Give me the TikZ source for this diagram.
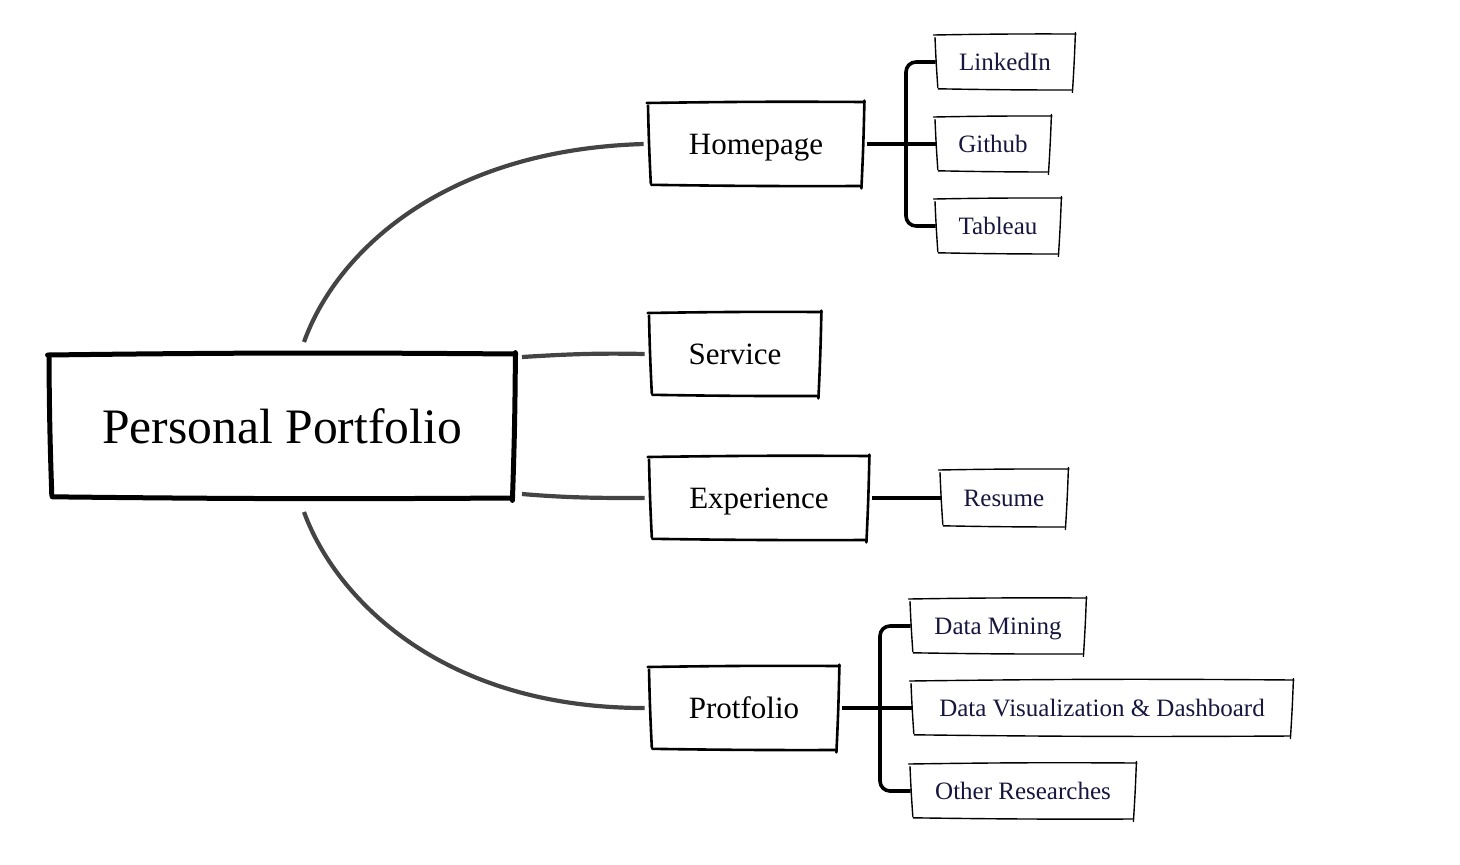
\documentclass[tikz,border=0pt]{standalone}
\usepackage{fontspec}
\setmainfont{Liberation Serif}
\usetikzlibrary{calc}
\definecolor{navy}{HTML}{16163E}
\definecolor{linkgray}{HTML}{444444}
\tikzset{
  box/.style={inner sep=0pt, align=center},
  mainbox/.style={box, font=\fontsize{24.8}{28}\selectfont},
  topicbox/.style={box, text depth=0pt, font=\fontsize{15.5}{18}\selectfont},
  leafbox/.style={box, text depth=0pt, text=navy, font=\fontsize{12.5}{15}\selectfont},
  mainlink/.style={draw=linkgray, line width=2.1pt},
  leaflink/.style={draw=black, line width=1.8pt, rounded corners=5pt},
}
% sketchy rectangle around a node: #1 node, #2 line width
\newcommand{\skbox}[2]{%
  \draw[line width=#2, line cap=round]
    ($(#1.north west)+(-1.5pt,0.3pt)$) to[bend left=0.6] ($(#1.north east)+(1.2pt,0.8pt)$);
  \draw[line width=#2, line cap=round]
    ($(#1.north east)+(1pt,1.5pt)$) to[bend left=0.8] ($(#1.south east)+(-0.5pt,-2pt)$);
  \draw[line width=#2, line cap=round]
    ($(#1.south east)+(-1pt,-0.8pt)$) to[bend left=0.5] ($(#1.south west)+(0.8pt,-0.2pt)$);
  \draw[line width=#2, line cap=round]
    ($(#1.south west)+(0.6pt,0.5pt)$) to[bend left=0.8] ($(#1.north west)+(-0.8pt,-1pt)$);
}
\begin{document}
\begin{tikzpicture}[x=0.5pt,y=-0.5pt]
\useasboundingbox (0,0) rectangle (1460,864);

% main
\node[mainbox, minimum width=231pt, minimum height=70pt] (pp) at (282,426) {Personal Portfolio};
% topics
\node[topicbox, minimum width=106pt, minimum height=40pt] (home) at (756,144) {Homepage};
\node[topicbox, minimum width=84pt, minimum height=40pt] (serv) at (735,354) {Service};
\node[topicbox, minimum width=108pt, minimum height=40pt] (exp) at (759,498) {Experience};
\node[topicbox, minimum width=93pt, minimum height=40pt] (prot) at (744,708) {Protfolio};
% leaves
\node[leafbox, minimum width=68pt, minimum height=26pt] (li) at (1005,62) {LinkedIn};
\node[leafbox, minimum width=56pt, minimum height=26pt] (gh) at (993,144) {Github};
\node[leafbox, minimum width=61pt, minimum height=26pt] (tb) at (998,226) {Tableau};
\node[leafbox, minimum width=62pt, minimum height=27pt] (rs) at (1004,498) {Resume};
\node[leafbox, minimum width=86pt, minimum height=26pt] (dm) at (998,626) {Data Mining};
\node[leafbox, minimum width=189pt, minimum height=26pt] (dv) at (1102,708) {Data Visualization \& Dashboard};
\node[leafbox, minimum width=111pt, minimum height=26pt] (or) at (1023,791) {Other Researches};

% sketch borders
\skbox{pp}{2.5pt}
\foreach \n in {home,serv,exp,prot}{\skbox{\n}{1.3pt}}
\foreach \n in {li,gh,tb,rs,dm,dv,or}{\skbox{\n}{0.7pt}}

% main links
\coordinate (pptop) at (304,342);
\coordinate (ppbot) at (304,512);
\coordinate (ppsv) at (522,357);
\coordinate (ppex) at (522,494);
\draw[mainlink] (pptop) .. controls (335,255) and (440,150) .. ([xshift=-3pt]home.west);
\draw[mainlink] (ppsv) .. controls (570,354) and (600,353) .. ([xshift=-3pt]serv.west);
\draw[mainlink] (ppex) .. controls (570,498) and (600,498) .. ([xshift=-3pt]exp.west);
\draw[mainlink] (ppbot) .. controls (335,597) and (440,708) .. ([xshift=-3pt]prot.west);

% leaf links
\coordinate (hbus) at (906,144);
\draw[leaflink] ([xshift=2.5pt]home.east) -- ([xshift=-0.5pt]gh.west);
\draw[leaflink] ([xshift=-0.5pt]li.west) -| (hbus) |- ([xshift=-0.5pt]tb.west);
\draw[leaflink] ([xshift=2.5pt]exp.east) -- ([xshift=-0.5pt]rs.west);
\coordinate (pbus) at (880,708);
\draw[leaflink] ([xshift=2.5pt]prot.east) -- ([xshift=-0.5pt]dv.west);
\draw[leaflink] ([xshift=-0.5pt]dm.west) -| (pbus) |- ([xshift=-0.5pt]or.west);
\end{tikzpicture}
\end{document}
